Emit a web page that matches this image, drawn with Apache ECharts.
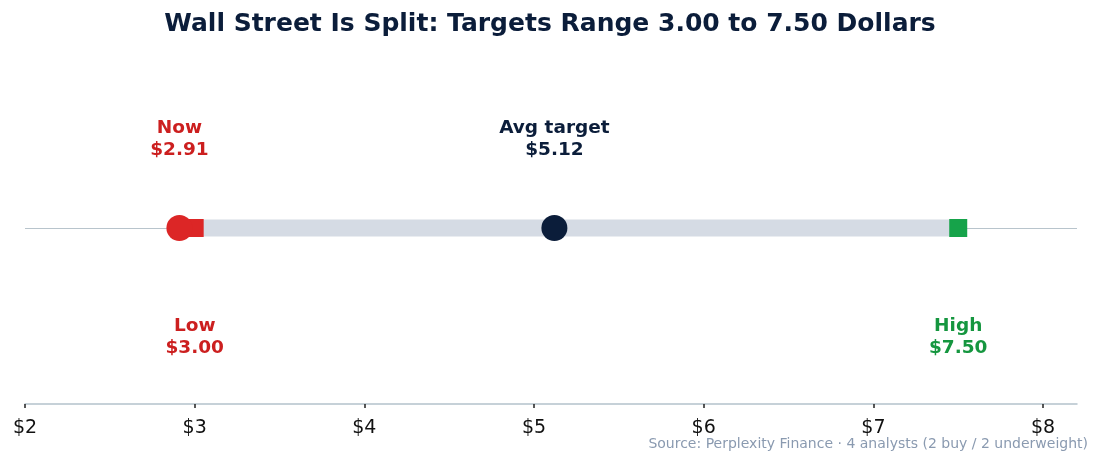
<!DOCTYPE html>
<html>
<head>
<meta charset="utf-8">
<script src="https://cdn.jsdelivr.net/npm/echarts@6/dist/echarts.min.js"></script>
<style>
  html, body { margin: 0; padding: 0; background: #fff; }
  #main { width: 1100px; height: 466px; }
</style>
</head>
<body>
<div id="main"></div>
<script>
const font = '"DejaVu Sans"';
const red = '#dc2626';
const green = '#16a34a';
const navy = '#0b1d3a';

// price points
const nowPrice = 2.91;
const lowTarget = 3.00;
const highTarget = 7.50;
const avgTarget = 5.12;
const xTicks = [2, 3, 4, 5, 6, 7, 8];

const markerNames = ['Low', 'High', 'Now', 'Avg target'];
const markerValues = [lowTarget, highTarget, nowPrice, avgTarget];

const chart = echarts.init(document.getElementById('main'));

const labelText = (name, v) => name + '\n$' + v.toFixed(2);

const option = {
  backgroundColor: '#fff',
  animation: false,
  title: {
    text: 'Wall Street Is Split: Targets Range 3.00 to 7.50 Dollars',
    left: 'center',
    top: 7,
    textStyle: { fontFamily: font, fontSize: 25, fontWeight: 'bold', color: navy }
  },
  graphic: [{
    type: 'text',
    right: 12,
    top: 437,
    style: {
      text: 'Source: Perplexity Finance · 4 analysts (2 buy / 2 underweight)',
      font: '14px "DejaVu Sans"',
      fill: '#8a9ab0'
    }
  }],
  grid: { left: 25, right: 23, top: 52, bottom: 62 },
  xAxis: {
    type: 'value',
    min: xTicks[0],
    max: 8.2,
    interval: 1,
    axisLine: { show: true, onZero: false, lineStyle: { color: '#b4c2cc', width: 1.5 } },
    axisTick: { show: true, length: 4, lineStyle: { color: '#222', width: 1.5 } },
    axisLabel: {
      showMaxLabel: false,
      margin: 15,
      fontFamily: font, fontSize: 19, color: '#111',
      formatter: v => '$' + v
    },
    splitLine: { show: false }
  },
  yAxis: { type: 'value', min: -1, max: 1, show: false },
  series: [
    {
      // thin baseline
      type: 'line',
      silent: true,
      symbol: 'none',
      z: 1,
      data: [],
      markLine: {
        symbol: 'none',
        silent: true,
        z: 1,
        label: { show: false },
        lineStyle: { color: '#b8c4cc', width: 1.2, type: 'solid' },
        data: [{ yAxis: 0 }]
      }
    },
    {
      // target range bar
      type: 'line',
      symbol: 'none',
      lineStyle: { color: '#d5dbe4', width: 17, cap: 'butt' },
      data: [[lowTarget, 0], [highTarget, 0]],
      z: 3
    },
    {
      type: 'scatter',
      symbol: 'rect',
      symbolSize: 18,
      z: 4,
      itemStyle: { opacity: 1 },
      data: [
        {
          value: [markerValues[0], 0],
          itemStyle: { color: red, opacity: 1 },
          label: { show: true, position: 'bottom', distance: 78, color: '#cc1f1f', formatter: labelText(markerNames[0], markerValues[0]) }
        },
        {
          value: [markerValues[1], 0],
          itemStyle: { color: green, opacity: 1 },
          label: { show: true, position: 'bottom', distance: 78, color: '#15963f', formatter: labelText(markerNames[1], markerValues[1]) }
        }
      ],
      label: { fontFamily: font, fontSize: 18.5, fontWeight: 'bold', lineHeight: 22, align: 'center' }
    },
    {
      type: 'scatter',
      symbol: 'circle',
      symbolSize: 26,
      z: 5,
      itemStyle: { opacity: 1 },
      data: [
        {
          value: [markerValues[2], 0],
          itemStyle: { color: red, opacity: 1 },
          label: { show: true, position: 'top', distance: 54, color: '#cc1f1f', formatter: labelText(markerNames[2], markerValues[2]) }
        },
        {
          value: [markerValues[3], 0],
          itemStyle: { color: navy, opacity: 1 },
          label: { show: true, position: 'top', distance: 54, color: navy, formatter: labelText(markerNames[3], markerValues[3]) }
        }
      ],
      label: { fontFamily: font, fontSize: 18.5, fontWeight: 'bold', lineHeight: 22, align: 'center' }
    }
  ]
};

chart.setOption(option);
</script>
</body>
</html>
